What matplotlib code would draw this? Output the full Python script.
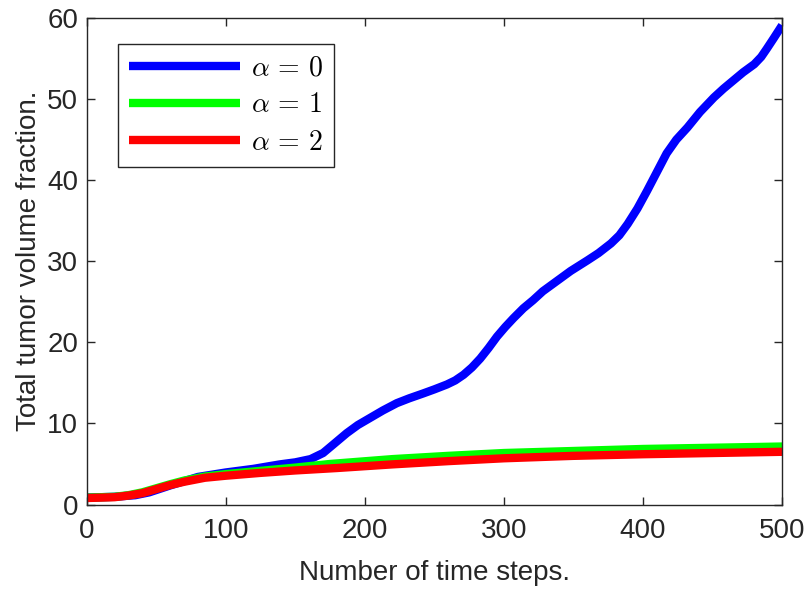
import numpy as np
import matplotlib
matplotlib.use('Agg')
import matplotlib.pyplot as plt

plt.rcParams.update({
    'font.family'      : ['Liberation Sans', 'DejaVu Sans'],
    'mathtext.fontset' : 'cm',
    'axes.edgecolor'   : '#262626',
    'axes.linewidth'   : 1.0,
    'xtick.color'      : '#262626',
    'ytick.color'      : '#262626',
    'xtick.direction'  : 'in',
    'ytick.direction'  : 'in',
    'xtick.top'        : True,
    'ytick.right'      : True,
})

# ── 데이터 ─────────────────────────────────────────────────
t_a0 = [0, 20, 35, 45, 60, 80, 100, 120, 139, 150, 161, 170, 178, 187, 195,
        204, 213, 223, 232, 242, 250, 259, 265, 271, 277, 283, 289, 295, 301,
        307, 314, 321, 328, 336, 348, 360, 368, 377, 383, 389, 396, 403, 410,
        417, 424, 432, 441, 451, 458, 465, 472, 480, 485, 489, 494, 500]
v_a0 = [0.85, 0.95, 1.15, 1.5, 2.35, 3.4, 3.95, 4.4, 4.95, 5.2, 5.6, 6.35,
        7.5, 8.8, 9.8, 10.7, 11.6, 12.5, 13.1, 13.7, 14.2, 14.8, 15.3, 16.0,
        16.9, 18.0, 19.3, 20.7, 21.9, 23.0, 24.2, 25.2, 26.3, 27.3, 28.8,
        30.1, 31.0, 32.2, 33.2, 34.6, 36.5, 38.7, 41.0, 43.3, 45.0, 46.5,
        48.4, 50.2, 51.3, 52.3, 53.3, 54.3, 55.2, 56.2, 57.5, 59.1]

t_a1 = [0, 20, 30, 40, 50, 60, 70, 85, 100, 125, 150, 175, 220, 260, 300,
        350, 400, 450, 500]
v_a1 = [0.85, 0.95, 1.15, 1.5, 2.0, 2.5, 2.95, 3.45, 3.75, 4.15, 4.55, 5.0,
        5.6, 6.0, 6.35, 6.6, 6.85, 7.0, 7.15]

t_a2 = [0, 20, 30, 40, 50, 60, 70, 85, 100, 125, 150, 180, 220, 260, 300,
        350, 400, 450, 500]
v_a2 = [0.8, 0.9, 1.1, 1.4, 1.9, 2.4, 2.8, 3.3, 3.55, 3.9, 4.2, 4.5, 4.95,
        5.35, 5.7, 6.0, 6.2, 6.35, 6.5]

labels = [r'$\alpha\,=\,0$', r'$\alpha\,=\,1$', r'$\alpha\,=\,2$']
x_ticks = [0, 100, 200, 300, 400, 500]
y_ticks = [0, 10, 20, 30, 40, 50, 60]

fig = plt.figure(figsize=(8.09, 5.90), dpi=100)
ax = fig.add_axes([0.1071, 0.1449, 0.8596, 0.8246])

line_kw = dict(linewidth=6, solid_capstyle='butt', solid_joinstyle='round')
ax.plot(t_a0, v_a0, color=(0, 0, 1), label=labels[0], **line_kw)
ax.plot(t_a1, v_a1, color=(0, 1, 0), label=labels[1], **line_kw)
ax.plot(t_a2, v_a2, color=(1, 0, 0), label=labels[2], **line_kw)

ax.set_xlim(0, 500)
ax.set_ylim(0, 60)
ax.set_xticks(x_ticks)
ax.set_yticks(y_ticks)
ax.tick_params(labelsize=20, length=6, width=1.0)
ax.tick_params(axis='x', pad=9.5)
ax.tick_params(axis='y', pad=6)
ax.set_xlabel('Number of time steps.', fontsize=20, color='#262626',
              labelpad=12)
ax.set_ylabel('Total tumor volume fraction.', fontsize=20, color='#262626')

leg = ax.legend(loc='upper left', bbox_to_anchor=(0.0445, 0.946),
                borderaxespad=0, fontsize=20, handlelength=4.0,
                handletextpad=0.4, labelspacing=0.4, fancybox=False,
                framealpha=1, edgecolor='#262626')
leg.get_frame().set_linewidth(1.0)

fig.savefig('out.png', dpi=100)
